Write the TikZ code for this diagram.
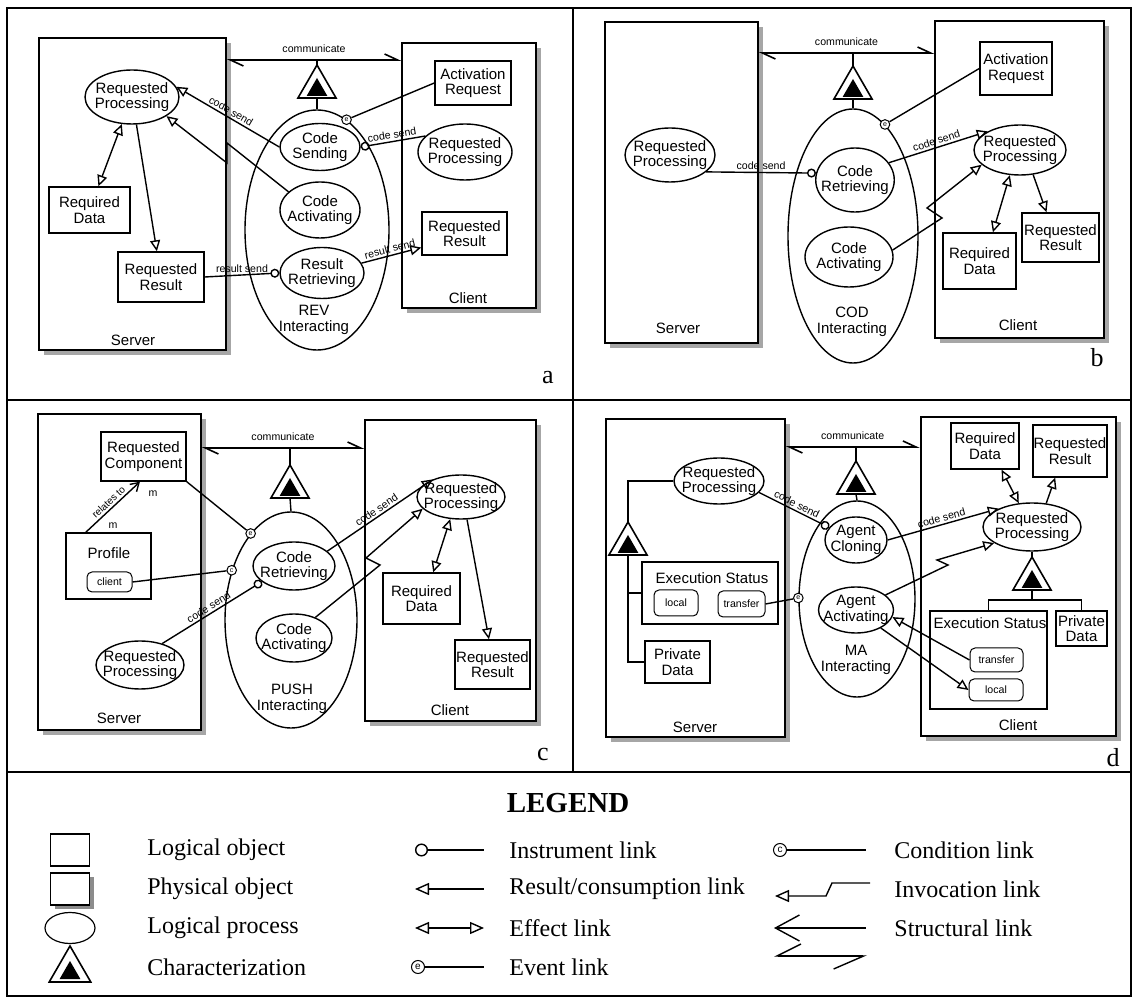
\documentclass[tikz,border=0pt]{standalone}
\usepackage{fontspec}
\setmainfont{Liberation Serif}
\setsansfont{Liberation Sans}
\usetikzlibrary{arrows.meta,shapes.geometric,shadows,fit,calc}

\tikzset{
  dia/.style={font=\sffamily\fontsize{7.5}{7.7}\selectfont},
  lbl/.style={font=\sffamily\fontsize{5.3}{5.5}\selectfont, inner sep=1pt},
  obj/.style={draw, line width=0.7pt, fill=white, align=center, inner sep=0pt, dia},
  proc/.style={draw, ellipse, line width=0.7pt, fill=white, align=center, inner xsep=-3pt, inner ysep=0pt, dia},
  phys/.style={draw, line width=0.8pt, fill=white, inner sep=0pt,
    drop shadow={shadow xshift=2.5pt, shadow yshift=-2.5pt, fill=black!35, opacity=1}},
  attr/.style={draw, line width=0.5pt, rounded corners=2.5pt, fill=white, inner sep=0pt, font=\sffamily\fontsize{5.3}{5.5}\selectfont},
  chout/.style={draw, line width=0.8pt, fill=white, regular polygon, regular polygon sides=3, minimum size=22pt, inner sep=0pt, outer sep=0pt},
  chin/.style={fill=black, regular polygon, regular polygon sides=3, minimum size=12pt, inner sep=0pt},
  evt/.style={draw, circle, line width=0.5pt, fill=white, minimum size=4.8pt, inner sep=0pt, font=\sffamily\fontsize{3.5}{3.5}\selectfont},
  lnk/.style={line width=0.7pt},
  res/.style={lnk, -{Triangle[open, length=5.5pt, width=5pt]}},
  eff/.style={lnk, {Triangle[open, length=5.5pt, width=5pt]}-{Triangle[open, length=5.5pt, width=5pt]}},
  inst/.style={lnk, {Circle[open, length=4.5pt]}-},
  strl/.style={line width=0.8pt, {Straight Barb[left, length=6.5pt, width=6pt]}-{Straight Barb[left, length=6.5pt, width=6pt]}},
  frame/.style={line width=1.2pt},
  letter/.style={font=\fontsize{13}{13}\selectfont},
  leg/.style={font=\fontsize{12}{12}\selectfont, anchor=west, inner sep=0pt},
}

\begin{document}
\begin{tikzpicture}[x=0.5pt, y=-0.5pt]
\useasboundingbox (0,0) rectangle (1136,999);

% panel a
\node[phys, fit={(39,38) (226,350)}] (srvA) {};
\node[phys, fit={(402,43) (536,308)}] (cliA) {};
\node[dia] (svtA) at (133,340) {Server};
\node[dia] (cltA) at (468,298) {Client};
\coordinate (comA) at (317,60);
\node[chout] (chA) at (317,87) {};
\node[chin] (chAi) at (317,90) {};
\node[proc, minimum width=72pt, minimum height=120pt] (bigA) at (317,230) {};
\node[dia, align=center] (revA) at (314,320) {REV\\Interacting};
\node[proc, minimum width=40pt, minimum height=23.5pt] (csA) at (320,147) {Code\\Sending};
\node[proc, minimum width=40pt, minimum height=28pt] (caA) at (320,210) {Code\\Activating};
\node[proc, minimum width=42pt, minimum height=25.5pt] (rtA) at (322,273) {Result\\Retrieving};
\node[proc, minimum width=47pt, minimum height=27pt] (rpA1) at (132,97) {Requested\\Processing};
\node[obj, minimum width=40.5pt, minimum height=23pt] (rdA) at (89.5,210) {Required\\Data};
\node[obj, minimum width=43pt, minimum height=25pt] (rrA) at (161,277) {Requested\\Result};
\node[obj, minimum width=38pt, minimum height=22pt] (arA) at (473,83) {Activation\\Request};
\node[proc, minimum width=47pt, minimum height=28pt] (rpA2) at (465,152) {Requested\\Processing};
\node[obj, minimum width=42.5pt, minimum height=21.5pt] (rsA) at (464.5,233.5) {Requested\\Result};
\node[evt] (evA) at (bigA.75) {e};
\coordinate (zA1) at (227,143);
\coordinate (zA2) at (227,163);
\draw[strl] (srvA.east |- comA) -- (cliA.west |- comA) node[lbl, midway, above=2.5pt] (cmA) {communicate};
\draw[lnk] (comA) -- (chA.north);
\draw[lnk] (chA.south) -- (bigA.north);
\draw[eff] (rpA1) -- (rdA);
\draw[res] (rpA1) -- (rrA);
\draw[res] (csA.west) -- (rpA1.13) node[lbl, midway, above, sloped] (csnA1) {code send};
\draw[res] (caA.150) -- (zA1) -- (zA2) -- (rpA1.-29);
\draw[inst] (rtA.west) -- (rrA.east) node[lbl, midway, above] (rsnA1) {result send};
\draw[res] (rtA.14) -- (rsA.198) node[lbl, midway, above, sloped] (rsnA2) {result send};
\draw[inst] (csA.east) -- (rpA2.158) node[lbl, midway, above, sloped] (csnA2) {code send};
\draw[lnk] (arA.west) -- (evA);
\node[letter] (ltA) at (548,378) {a};

% panel b
\node[phys, fit={(605,22) (758,343)}] (srvB) {};
\node[phys, fit={(935,21) (1104,338)}] (cliB) {};
\node[dia] (svtB) at (678,328) {Server};
\node[dia] (cltB) at (1018,325) {Client};
\coordinate (comB) at (853,53);
\node[chout] (chB) at (853,88) {};
\node[chin] (chBi) at (853,91) {};
\node[proc, minimum width=65pt, minimum height=127pt] (bigB) at (853,236) {};
\node[dia, align=center] (codB) at (852,322) {COD\\Interacting};
\node[proc, minimum width=37pt, minimum height=32pt] (crB) at (855,180) {Code\\Retrieving};
\node[proc, minimum width=44pt, minimum height=30pt] (caB) at (849,257) {Code\\Activating};
\node[proc, minimum width=45pt, minimum height=27pt] (rpB1) at (670,155) {Requested\\Processing};
\node[proc, minimum width=46pt, minimum height=25pt] (rpB2) at (1020,150) {Requested\\Processing};
\node[obj, minimum width=36pt, minimum height=26.5pt] (arB) at (1016,68.5) {Activation\\Request};
\node[obj, minimum width=36.5pt, minimum height=28pt] (rdB) at (979.5,261) {Required\\Data};
\node[obj, minimum width=38.5pt, minimum height=24.5pt] (rsB) at (1060.5,237.5) {Requested\\Result};
\node[evt] (evB) at (bigB.74) {e};
\coordinate (zB1) at (942,218);
\coordinate (zB2) at (927,208);
\draw[strl] (srvB.east |- comB) -- (cliB.west |- comB) node[lbl, midway, above=2.5pt] (cmB) {communicate};
\draw[lnk] (comB) -- (chB.north);
\draw[lnk] (chB.south) -- (bigB.north);
\draw[inst] (crB.170) -- (rpB1.-25) node[lbl, midway, above] (csnB1) {code send};
\draw[res] (crB.27) -- (rpB2.150) node[lbl, midway, above, sloped] (csnB2) {code send};
\draw[res] (caB.9) -- (zB1) -- (zB2) -- (rpB2.201);
\draw[lnk] (arB.west) -- (evB);
\draw[eff] (rpB2.248) -- (rdB.65);
\draw[res] (rpB2.-62) -- (rsB.119);
\node[letter] (ltB) at (1097,358) {b};

% panel c
\node[phys, fit={(38,414) (201,730)}] (srvC) {};
\node[phys, fit={(365,420) (536,721)}] (cliC) {};
\node[dia] (svtC) at (119,718) {Server};
\node[dia] (cltC) at (450,710) {Client};
\coordinate (comC) at (290,448);
\node[chout] (chC) at (290,487) {};
\node[chin] (chCi) at (290,490) {};
\node[proc, minimum width=66pt, minimum height=108pt] (bigC) at (291,620) {};
\node[dia, align=center] (pshC) at (292,699) {PUSH\\Interacting};
\node[proc, minimum width=41pt, minimum height=24pt] (crC) at (294,566) {Code\\Retrieving};
\node[proc, minimum width=38pt, minimum height=24pt] (caC) at (294,638) {Code\\Activating};
\node[obj, minimum width=42.5pt, minimum height=24.5pt] (rcC) at (143.5,456.5) {Requested\\Component};
\node[obj, minimum width=42.5pt, minimum height=33pt] (prC) at (108.5,566) {};
\node[dia] (prtC) at (109,553) {Profile};
\node[attr, minimum width=22.5pt, minimum height=10pt] (clC) at (109.5,582) {client};
\node[proc, minimum width=43pt, minimum height=24pt] (rpC1) at (140,665) {Requested\\Processing};
\node[proc, minimum width=43pt, minimum height=22pt] (rpC2) at (461,497) {Requested\\Processing};
\node[obj, minimum width=38.5pt, minimum height=25.5pt] (rdC) at (421.5,598.5) {Required\\Data};
\node[obj, minimum width=37.5pt, minimum height=24.5pt] (rsC) at (492.5,664.5) {Requested\\Result};
\node[evt] (evC) at (bigC.115) {e};
\node[evt] (cnC) at (bigC.140) {c};
\node[lbl] (mC1) at (113,526) {m};
\node[lbl] (mC2) at (153,494) {m};
\coordinate (zC1) at (380,565);
\coordinate (zC2) at (366,558);
\draw[strl] (srvC.east |- comC) -- (cliC.west |- comC) node[lbl, midway, above=2.5pt] (cmC) {communicate};
\draw[lnk] (comC) -- (chC.north);
\draw[lnk] (chC.south) -- (bigC.north);
\draw[lnk, -{Straight Barb[length=4pt, width=5pt]}] (prC.124) -- (rcC.262)
  node[lbl, pos=0.5, above=0pt, sloped, font=\sffamily\fontsize{5}{5}\selectfont] (rtoC) {relates to};
\draw[lnk] (rcC.south east) -- (evC);
\draw[lnk] (clC.east) -- (cnC);
\draw[inst] (crC.206) -- (rpC1.44) node[lbl, midway, above, sloped] (csnC1) {code send};
\draw[res] (crC.24) -- (rpC2.148) node[lbl, midway, above, sloped] (csnC2) {code send};
\draw[res] (caC.44) -- (zC1) -- (zC2) -- (rpC2.197);
\draw[eff] (rpC2.244) -- (rdC.66);
\draw[res] (rpC2.-75) -- (rsC.98);
\node[letter] (ltC) at (543,755) {c};

% panel d
\node[phys, fit={(606,419) (785,737)}] (srvD) {};
\node[phys, line width=1.4pt, fit={(921,417) (1116,736)}] (cliD) {};
\node[dia] (svtD) at (695,727) {Server};
\node[dia] (cltD) at (1018,725) {Client};
\coordinate (comD) at (856,447);
\node[chout] (chD) at (856,483) {};
\node[chin] (chDi) at (856,486) {};
\node[proc, minimum width=58pt, minimum height=98pt] (bigD) at (857,599) {};
\node[dia, align=center] (maD) at (856,660) {MA\\Interacting};
\node[proc, minimum width=31pt, minimum height=23pt] (acD) at (856,540) {Agent\\Cloning};
\node[proc, minimum width=36pt, minimum height=23pt] (aaD) at (856,610) {Agent\\Activating};
\node[proc, minimum width=45pt, minimum height=23pt] (rpD1) at (719,481) {Requested\\Processing};
\node[chout] (chD2) at (628,544) {};
\node[chin] (chD2i) at (628,547) {};
\node[obj, minimum width=68pt, minimum height=31pt] (esD1) at (710,593) {};
\node[dia] (estD1) at (712,578) {Execution Status};
\node[attr, minimum width=22pt, minimum height=13pt] (loD1) at (676,603) {local};
\node[attr, minimum width=23.5pt, minimum height=13pt] (trD1) at (741.5,604) {transfer};
\node[obj, minimum width=32.5pt, minimum height=21pt] (pdD1) at (677.5,662) {Private\\Data};
\node[evt] (evD) at (bigD.179) {e};
\node[proc, minimum width=49pt, minimum height=24pt] (rpD2) at (1032,527) {Requested\\Processing};
\node[obj, minimum width=34pt, minimum height=23pt] (rdD) at (985,446) {Required\\Data};
\node[obj, minimum width=37pt, minimum height=26pt] (rsD) at (1070,451) {Requested\\Result};
\node[chout] (chD3) at (1032,579) {};
\node[chin] (chD3i) at (1032,582) {};
\node[obj, minimum width=58.5pt, minimum height=49pt] (esD2) at (988.5,660) {};
\node[dia] (estD2) at (990,623) {Execution Status};
\node[attr, minimum width=26.5pt, minimum height=12pt] (trD2) at (996.5,660) {transfer};
\node[attr, minimum width=27pt, minimum height=11pt] (loD2) at (996,690) {local};
\node[obj, minimum width=25.5pt, minimum height=17.5pt] (pdD2) at (1081.5,628.5) {Private\\Data};
\coordinate (zD1) at (948,565);
\coordinate (zD2) at (937,560);
\coordinate (brD) at (1032,600);
\draw[strl] (srvD.east |- comD) -- (cliD.west |- comD) node[lbl, midway, above=2.5pt] (cmD) {communicate};
\draw[lnk] (comD) -- (chD.north);
\draw[lnk] (chD.south) -- (bigD.north);
\draw[inst] (acD.155) -- (rpD1.-16) node[lbl, midway, above, sloped] (csnD1) {code send};
\draw[res] (acD.east) -- (rpD2.151) node[lbl, midway, above, sloped] (csnD2) {code send};
\draw[res] (aaD.27) -- (zD1) -- (zD2) -- (rpD2.203);
\draw[eff] (rpD2.119) -- (rdD.-55);
\draw[res] (rpD2.59) -- (rsD.241);
\draw[lnk] (trD1.east) -- (evD);
\draw[res] (trD2.west) -- (aaD.-11);
\draw[res] (aaD.-36) -- (loD2.west);
\draw[lnk] (rpD1.west) -| (chD2.north);
\draw[lnk] (chD2.south) |- (esD1.west);
\draw[lnk] (chD2.south) |- (pdD1.west);
\draw[lnk] (rpD2.south) -- (chD3.north);
\draw[lnk] (chD3.south) -- (brD);
\draw[lnk] (esD2.north) |- (brD) -| (pdD2.north);
\node[letter] (ltD) at (1113,758) {d};

% legend
\node[font=\bfseries\fontsize{14.5}{14.5}\selectfont] (legT) at (568,803) {LEGEND};
\node[draw, line width=0.6pt, minimum width=19.5pt, minimum height=16pt, inner sep=0pt] (lgA) at (70,850) {};
\node[draw, line width=0.6pt, minimum width=19.5pt, minimum height=16pt, inner sep=0pt, fill=white,
  drop shadow={shadow xshift=2pt, shadow yshift=-2pt, fill=black!45, opacity=1}] (lgB) at (70,889) {};
\node[draw, ellipse, line width=0.6pt, minimum width=25pt, minimum height=15.5pt, inner sep=0pt] (lgC) at (70,928) {};
\node[chout, minimum size=24pt] (lgD) at (70,970) {};
\node[chin, minimum size=12pt] (lgDi) at (70,973) {};
\node[leg] (txA) at (147,850) {Logical object};
\node[leg] (txB) at (147,889) {Physical object};
\node[leg] (txC) at (147,928) {Logical process};
\node[leg] (txD) at (147,967) {Characterization};

\coordinate (lnA1) at (415,850);
\coordinate (lnA2) at (484,850);
\coordinate (lnB1) at (415,889);
\coordinate (lnB2) at (484,889);
\coordinate (lnC1) at (415,928);
\coordinate (lnC2) at (484,928);
\coordinate (lnD2) at (484,967);
\node[evt, minimum size=6.5pt, font=\sffamily\fontsize{5}{5}\selectfont] (lgE) at (418,967) {e};
\draw[lnk, {Circle[open, length=6.5pt]}-] (lnA1) -- (lnA2);
\draw[lnk, {Triangle[open, length=7pt, width=6pt]}-] (lnB1) -- (lnB2);
\draw[lnk, {Triangle[open, length=7pt, width=6pt]}-{Triangle[open, length=7pt, width=6pt]}] (lnC1) -- (lnC2);
\draw[lnk] (lgE) -- (lnD2);
\node[leg] (txE) at (509,850) {Instrument link};
\node[leg] (txF) at (509,889) {Result/consumption link};
\node[leg] (txG) at (509,928) {Effect link};
\node[leg] (txH) at (509,967) {Event link};

\node[evt, minimum size=6.5pt, font=\sffamily\fontsize{5}{5}\selectfont] (lgF) at (780,850) {c};
\coordinate (lnE2) at (866,850);
\coordinate (lnF1) at (775,896);
\coordinate (lnF2) at (826,896);
\coordinate (lnF3) at (832,883);
\coordinate (lnF4) at (870,883);
\coordinate (lnG1) at (774,928);
\coordinate (lnG2) at (866,928);
\coordinate (lnH1) at (774,956);
\coordinate (lnH2) at (867,956);
\draw[lnk] (lgF) -- (lnE2);
\draw[lnk, {Triangle[open, length=7pt, width=6pt]}-] (lnF1) -- (lnF2) -- (lnF3) -- (lnF4);
\draw[lnk, {Straight Barb[length=12pt, width=13pt]}-] (lnG1) -- (lnG2);
\draw[lnk, {Straight Barb[right, length=12pt, width=12pt]}-{Straight Barb[right, length=15pt, width=13pt]}] (lnH1) -- (lnH2);
\node[leg] (txI) at (894,850) {Condition link};
\node[leg] (txJ) at (894,889) {Invocation link};
\node[leg] (txK) at (894,928) {Structural link};

% frame
\draw[frame] (7,8) rectangle (1131,996);
\draw[frame] (573,8) -- (573,772);
\draw[frame] (7,400) -- (1131,400);
\draw[frame] (7,772) -- (1131,772);
\end{tikzpicture}
\end{document}
